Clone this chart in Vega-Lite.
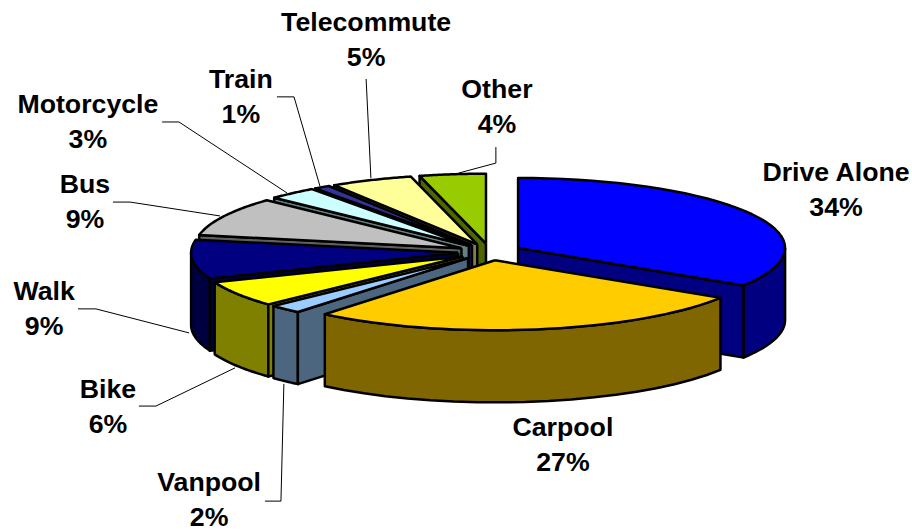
{
  "$schema": "https://vega.github.io/schema/vega-lite/v6.json",
  "width": 912,
  "height": 531,
  "autosize": {"type": "none"},
  "padding": 0,
  "background": "white",
  "view": {"stroke": null},
  "config": {"font": "Liberation Sans"},
  "datasets": {
    "slices": [
      {"slice": "Other", "pct": 4, "rank": 10},
      {"slice": "Telecommute", "pct": 5, "rank": 9},
      {"slice": "Train", "pct": 1, "rank": 8},
      {"slice": "Motorcycle", "pct": 3, "rank": 7},
      {"slice": "Bus", "pct": 9, "rank": 6},
      {"slice": "Walk", "pct": 9, "rank": 5},
      {"slice": "Bike", "pct": 6, "rank": 4},
      {"slice": "Vanpool", "pct": 2, "rank": 3},
      {"slice": "Drive Alone", "pct": 34, "rank": 1},
      {"slice": "Carpool", "pct": 27, "rank": 2}
    ],
    "labelSpots": [
      {"slice": "Drive Alone", "lx": 1.296, "ly": 0.232},
      {"slice": "Carpool", "lx": 0.273, "ly": -0.723},
      {"slice": "Vanpool", "lx": -1.052, "ly": -0.929},
      {"slice": "Bike", "lx": -1.431, "ly": -0.581},
      {"slice": "Walk", "lx": -1.67, "ly": -0.213},
      {"slice": "Bus", "lx": -1.517, "ly": 0.187},
      {"slice": "Motorcycle", "lx": -1.506, "ly": 0.487},
      {"slice": "Train", "lx": -0.933, "ly": 0.581},
      {"slice": "Telecommute", "lx": -0.464, "ly": 0.794},
      {"slice": "Other", "lx": 0.026, "ly": 0.543}
    ],
    "leaders": [
      {"slice": "Other", "step": 1, "lx": 0.022, "ly": 0.393},
      {"slice": "Other", "step": 2, "lx": 0.022, "ly": 0.333},
      {"slice": "Other", "step": 3, "lx": -0.116, "ly": 0.296},
      {"slice": "Telecommute", "step": 1, "lx": -0.464, "ly": 0.648},
      {"slice": "Telecommute", "step": 2, "lx": -0.446, "ly": 0.277},
      {"slice": "Train", "step": 1, "lx": -0.798, "ly": 0.581},
      {"slice": "Train", "step": 2, "lx": -0.734, "ly": 0.581},
      {"slice": "Train", "step": 3, "lx": -0.637, "ly": 0.247},
      {"slice": "Motorcycle", "step": 1, "lx": -1.228, "ly": 0.487},
      {"slice": "Motorcycle", "step": 2, "lx": -1.165, "ly": 0.487},
      {"slice": "Motorcycle", "step": 3, "lx": -0.76, "ly": 0.221},
      {"slice": "Bus", "step": 1, "lx": -1.412, "ly": 0.187},
      {"slice": "Bus", "step": 2, "lx": -1.348, "ly": 0.187},
      {"slice": "Bus", "step": 3, "lx": -1.011, "ly": 0.135},
      {"slice": "Walk", "step": 1, "lx": -1.543, "ly": -0.213},
      {"slice": "Walk", "step": 2, "lx": -1.476, "ly": -0.213},
      {"slice": "Walk", "step": 3, "lx": -1.127, "ly": -0.303},
      {"slice": "Bike", "step": 1, "lx": -1.315, "ly": -0.577},
      {"slice": "Bike", "step": 2, "lx": -1.251, "ly": -0.577},
      {"slice": "Bike", "step": 3, "lx": -0.955, "ly": -0.434},
      {"slice": "Vanpool", "step": 1, "lx": -0.843, "ly": -0.933},
      {"slice": "Vanpool", "step": 2, "lx": -0.783, "ly": -0.933},
      {"slice": "Vanpool", "step": 3, "lx": -0.772, "ly": -0.494}
    ]
  },
  "layer": [
    {
      "data": {"name": "leaders"},
      "mark": {"type": "line", "stroke": "black", "strokeWidth": 1, "clip": false},
      "encoding": {
        "x": {"field": "lx", "type": "quantitative", "scale": {"domain": [-1.8352, 1.5805]}, "axis": null},
        "y": {"field": "ly", "type": "quantitative", "scale": {"domain": [-1.0449, 0.9438]}, "axis": null},
        "order": {"field": "step", "type": "ordinal"},
        "detail": {"field": "slice", "type": "nominal"}
      }
    },
    {
      "data": {"name": "slices"},
      "transform": [
        {"window": [{"op": "sum", "field": "pct", "as": "cum"}], "sort": [{"field": "rank", "order": "ascending"}]},
        {"calculate": "(datum.cum - datum.pct) * 3.6", "as": "start"},
        {"calculate": "datum.cum * 3.6", "as": "end"},
        {"calculate": "(datum.start + datum.end) / 2", "as": "mid"},
        {"calculate": "datum.start >= 180 ? datum.start : (datum.end <= 180 ? datum.end : -1)", "as": "faceAngle"},
        {"calculate": "max(datum.start, 90)", "as": "lo"},
        {"calculate": "min(datum.end, 270)", "as": "hi"},
        {"calculate": "['wall', 'face', 'top']", "as": "part"},
        {"flatten": ["part"]},
        {"filter": "datum.part == 'top' || (datum.part == 'face' && datum.faceAngle >= 0) || (datum.part == 'wall' && datum.hi > datum.lo)"},
        {"calculate": "[0,1,2,3,4,5,6,7,8,9,10,11,12,13,14,15,16,17,18,19,20,21,22,23,24,25,26,27,28,29,30,31,32,33,34,35,36,37,38,39,40]", "as": "k"},
        {"flatten": ["k"]},
        {"filter": "datum.part != 'face' || datum.k < 5"},
        {"calculate": "datum.part == 'face' ? datum.faceAngle : (datum.part == 'top' ? datum.start + (datum.end - datum.start) * (datum.k - 1) / 38 : datum.lo + (datum.hi - datum.lo) * (datum.k < 20 ? datum.k : (datum.k == 40 ? 0 : 39 - datum.k)) / 19)", "as": "theta"},
        {"calculate": "(datum.part == 'top' && (datum.k == 0 || datum.k == 40)) || (datum.part == 'face' && (datum.k == 0 || datum.k >= 3)) ? 0 : 1", "as": "r"},
        {"calculate": "(datum.part == 'wall' && datum.k >= 20 && datum.k < 40) || (datum.part == 'face' && (datum.k == 2 || datum.k == 3)) ? 0.27 : 0", "as": "drop"},
        {"calculate": "0.12 * sin(datum.mid * PI / 180) + datum.r * sin(datum.theta * PI / 180)", "as": "px"},
        {"calculate": "0.262 * (0.12 * cos(datum.mid * PI / 180) + datum.r * cos(datum.theta * PI / 180)) - datum.drop", "as": "py"},
        {"calculate": "datum.part == 'top' ? datum.slice : datum.slice + ' side'", "as": "paint"},
        {"calculate": "datum.slice + ' ' + datum.part", "as": "piece"}
      ],
      "mark": {"type": "line", "stroke": "black", "strokeWidth": 2.5, "strokeJoin": "round", "clip": false},
      "encoding": {
        "x": {"field": "px", "type": "quantitative", "scale": {"domain": [-1.8352, 1.5805]}, "axis": null},
        "y": {"field": "py", "type": "quantitative", "scale": {"domain": [-1.0449, 0.9438]}, "axis": null},
        "order": {"field": "k", "type": "quantitative"},
        "detail": {"field": "piece", "type": "nominal"},
        "fill": {
          "field": "paint",
          "type": "nominal",
          "legend": null,
          "scale": {
            "domain": ["Drive Alone", "Drive Alone side", "Carpool", "Carpool side", "Vanpool", "Vanpool side", "Bike", "Bike side", "Walk", "Walk side", "Bus", "Bus side", "Motorcycle", "Motorcycle side", "Train", "Train side", "Telecommute", "Telecommute side", "Other", "Other side"],
            "range": ["#0000FF", "#000080", "#FFCC00", "#806600", "#99CCFF", "#4D6680", "#FFFF00", "#808000", "#000080", "#000040", "#C0C0C0", "#606060", "#CCFFFF", "#668080", "#333399", "#1A1A4D", "#FFFF99", "#80804D", "#99CC00", "#4D6600"]
          }
        }
      }
    },
    {
      "data": {"name": "labelSpots"},
      "transform": [
        {"lookup": "slice", "from": {"data": {"name": "slices"}, "key": "slice", "fields": ["pct"]}},
        {"calculate": "datum.slice + '\\n' + datum.pct + '%'", "as": "label"}
      ],
      "mark": {"type": "text", "font": "Liberation Sans", "fontWeight": "bold", "fontSize": 26.7, "lineBreak": "\n", "lineHeight": 35, "align": "center", "baseline": "middle", "dy": -17, "color": "black", "clip": false},
      "encoding": {
        "x": {"field": "lx", "type": "quantitative", "scale": {"domain": [-1.8352, 1.5805]}, "axis": null},
        "y": {"field": "ly", "type": "quantitative", "scale": {"domain": [-1.0449, 0.9438]}, "axis": null},
        "text": {"field": "label", "type": "nominal"}
      }
    }
  ]
}
